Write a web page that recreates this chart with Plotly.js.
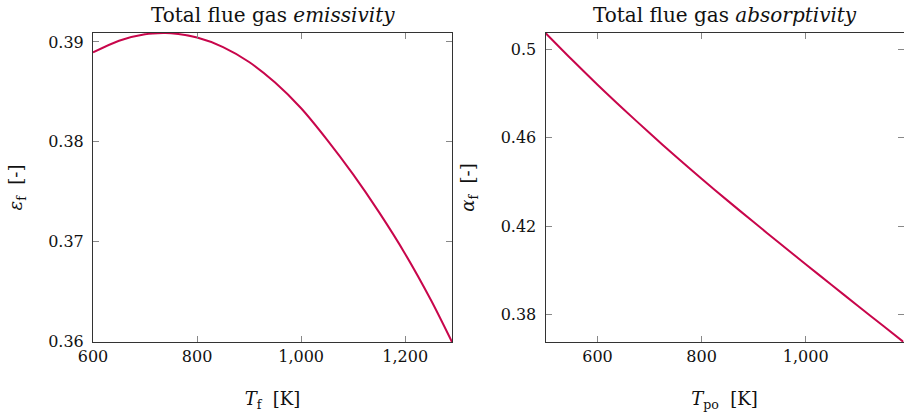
<!DOCTYPE html>
<html>
<head>
<meta charset="utf-8">
<script src="https://cdn.plot.ly/plotly-3.0.1.min.js"></script>
<style>
html,body{margin:0;padding:0;background:#fff;}
#chart{width:904px;height:413px;}
</style>
</head>
<body>
<div id="chart"></div>
<script>
// Left panel: total flue gas emissivity vs flue gas temperature
const tempFlue = [600, 650, 700, 735, 750, 800, 850, 900, 950, 1000, 1050, 1100, 1150, 1200, 1250, 1290];
const emissivity = [0.38895, 0.39013, 0.39077, 0.3909, 0.39088, 0.39045, 0.38949, 0.38799, 0.38593, 0.38335, 0.38018, 0.37671, 0.3729, 0.36874, 0.36406, 0.3599];

// Right panel: total flue gas absorptivity vs temperature T_po
const tempPo = [500, 550, 600, 650, 700, 750, 800, 850, 900, 950, 1000, 1050, 1100, 1150, 1188];
const absorptivity = [0.5074, 0.4955, 0.4840, 0.4729, 0.4621, 0.4516, 0.4414, 0.4315, 0.4218, 0.4122, 0.4027, 0.3933, 0.3839, 0.3746, 0.3675];

const emisTickVals = [0.36, 0.37, 0.38, 0.39];
const emisTickText = ['0.36', '0.37', '0.38', '0.39'];
const absTickVals = [0.38, 0.42, 0.46, 0.5];
const absTickText = ['0.38', '0.42', '0.46', '0.5'];
const xLeftTickVals = [600, 800, 1000, 1200];
const xLeftTickText = ['600', '800', '1,000', '1,200'];
const xRightTickVals = [600, 800, 1000];
const xRightTickText = ['600', '800', '1,000'];

const titleLeft = 'Total flue gas <i>emissivity</i>';
const titleRight = 'Total flue gas <i>absorptivity</i>';
const xTitleLeft = '<i>T</i><sub>f</sub>  [K]';
const xTitleRight = '<i>T</i><sub>po</sub>  [K]';
const yTitleLeft = '<i>ε</i><sub>f</sub>  [-]';
const yTitleRight = '<i>α</i><sub>f</sub>  [-]';

const lineColor = '#C8064B';
const fontFam = 'DejaVu Serif, serif';

const traces = [
  {x: tempFlue, y: emissivity, type: 'scatter', mode: 'lines', xaxis: 'x', yaxis: 'y',
   line: {color: lineColor, width: 2, shape: 'spline', smoothing: 0.8}, showlegend: false, hoverinfo: 'skip'},
  {x: tempPo, y: absorptivity, type: 'scatter', mode: 'lines', xaxis: 'x2', yaxis: 'y2',
   line: {color: lineColor, width: 2, shape: 'spline', smoothing: 0.8}, showlegend: false, hoverinfo: 'skip'}
];

const W = 904;
const axisCommon = {
  showgrid: false, zeroline: false, showline: true, linecolor: '#333', linewidth: 1,
  mirror: 'ticks', ticks: 'inside', ticklen: 6, tickwidth: 1, tickcolor: '#888',
  tickfont: {family: fontFam, size: 16, color: '#111'}
};

const layout = {
  width: 904, height: 413,
  margin: {l: 0, r: 0, t: 33, b: 71, pad: 0},
  paper_bgcolor: '#fff', plot_bgcolor: '#fff',
  font: {family: fontFam, size: 16, color: '#111'},
  xaxis: Object.assign({}, axisCommon, {
    domain: [93 / W, 452 / W], range: [600, 1290], autorange: false,
    tickvals: xLeftTickVals, ticktext: xLeftTickText,
    title: {text: xTitleLeft, font: {family: fontFam, size: 18}, standoff: 27}
  }),
  yaxis: Object.assign({}, axisCommon, {
    domain: [0, 1], range: [0.3599, 0.3909], autorange: false,
    tickvals: emisTickVals, ticktext: emisTickText, ticklabelstandoff: 5,
    title: {text: yTitleLeft, font: {family: fontFam, size: 18}, standoff: 20}
  }),
  xaxis2: Object.assign({}, axisCommon, {
    domain: [545.5 / W, 903.5 / W], range: [500, 1188], autorange: false, anchor: 'y2',
    tickvals: xRightTickVals, ticktext: xRightTickText,
    title: {text: xTitleRight, font: {family: fontFam, size: 18}, standoff: 27}
  }),
  yaxis2: Object.assign({}, axisCommon, {
    domain: [0, 1], range: [0.3675, 0.5074], autorange: false, anchor: 'x2',
    tickvals: absTickVals, ticktext: absTickText, ticklabelstandoff: 5,
    title: {text: yTitleRight, font: {family: fontFam, size: 18}, standoff: 21}
  }),
  annotations: [
    {text: titleLeft, xref: 'paper', yref: 'paper', x: (93 + 452) / 2 / W, y: 1, xanchor: 'center', yanchor: 'bottom',
     yshift: 4, showarrow: false, font: {family: fontFam, size: 20, color: '#111'}},
    {text: titleRight, xref: 'paper', yref: 'paper', x: (545.5 + 903.5) / 2 / W, y: 1, xanchor: 'center', yanchor: 'bottom',
     yshift: 4, showarrow: false, font: {family: fontFam, size: 20, color: '#111'}}
  ]
};

Plotly.newPlot('chart', traces, layout, {staticPlot: true, displayModeBar: false});
</script>
</body>
</html>
